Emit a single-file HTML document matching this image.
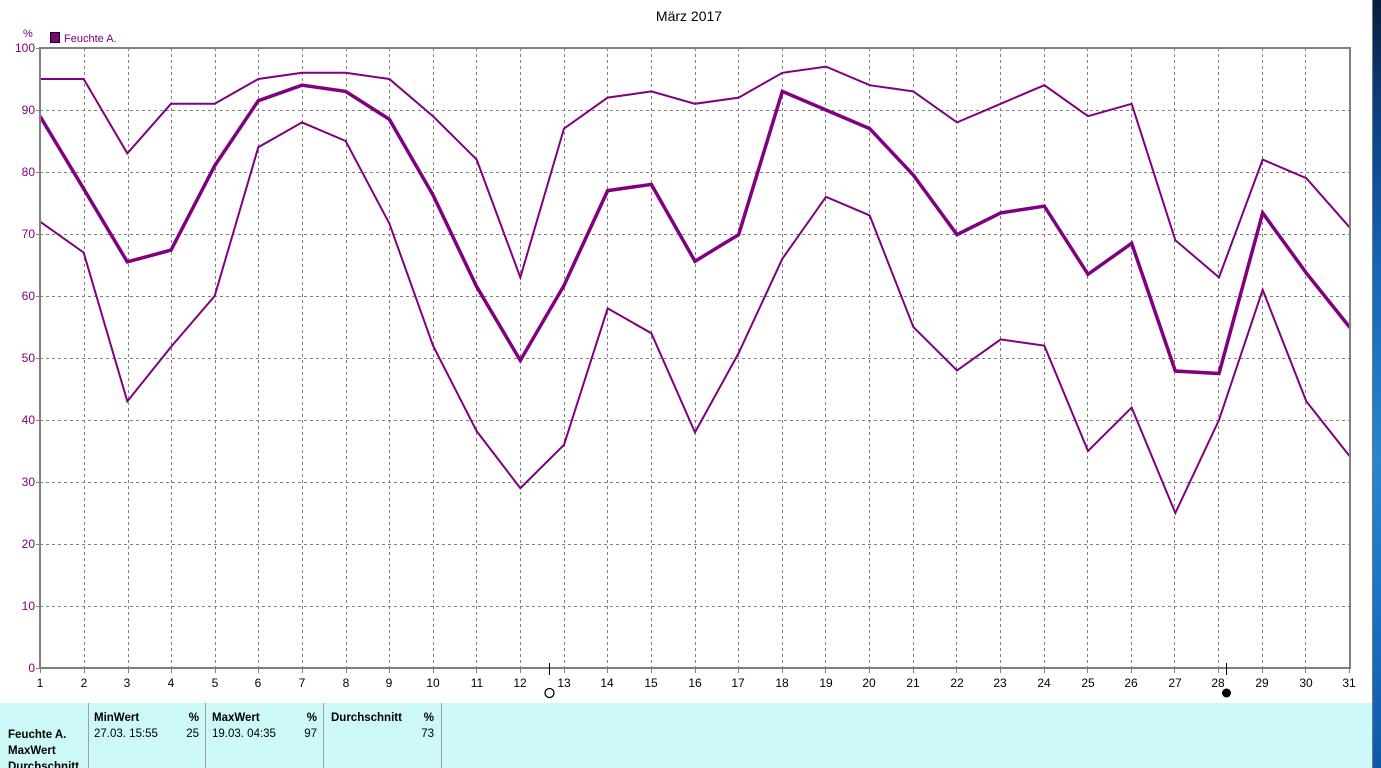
<!DOCTYPE html>
<html><head><meta charset="utf-8">
<style>
html,body{margin:0;padding:0;background:#fff;width:1381px;height:768px;overflow:hidden;}
svg{display:block;}
text{font-family:"Liberation Sans",sans-serif;}
</style></head>
<body>
<svg width="1381" height="768" viewBox="0 0 1381 768" xmlns="http://www.w3.org/2000/svg">
<defs>
<linearGradient id="desk" x1="0" y1="0" x2="0" y2="1">
<stop offset="0" stop-color="#0a1e3c"/>
<stop offset="0.12" stop-color="#0c3a78"/>
<stop offset="0.35" stop-color="#1565b8"/>
<stop offset="0.6" stop-color="#2a85d0"/>
<stop offset="0.8" stop-color="#1a70c4"/>
<stop offset="1" stop-color="#0f58a8"/>
</linearGradient>
</defs>
<rect x="0" y="0" width="1381" height="768" fill="#fff"/>
<!-- desktop strip -->
<rect x="1373" y="0" width="8" height="768" fill="url(#desk)"/>
<rect x="1372" y="0" width="1" height="768" fill="#6a7a8a"/>

<!-- title -->
<text x="689" y="21" font-size="14" text-anchor="middle" fill="#000">März 2017</text>
<!-- unit & legend -->
<text x="23" y="37" font-size="11" fill="#800080">%</text>
<rect x="50.5" y="32.5" width="9" height="10" fill="#800080" stroke="#000" stroke-width="1"/>
<text x="64" y="42" font-size="11" fill="#800080">Feuchte A.</text>

<!-- grid -->
<g stroke="#808080" stroke-width="1" stroke-dasharray="3,3" shape-rendering="crispEdges">
<line x1="40" y1="110.5" x2="1350" y2="110.5"/>
<line x1="40" y1="172.5" x2="1350" y2="172.5"/>
<line x1="40" y1="234.5" x2="1350" y2="234.5"/>
<line x1="40" y1="296.5" x2="1350" y2="296.5"/>
<line x1="40" y1="358.5" x2="1350" y2="358.5"/>
<line x1="40" y1="420.5" x2="1350" y2="420.5"/>
<line x1="40" y1="482.5" x2="1350" y2="482.5"/>
<line x1="40" y1="544.5" x2="1350" y2="544.5"/>
<line x1="40" y1="606.5" x2="1350" y2="606.5"/>
<line x1="84.5" y1="48" x2="84.5" y2="668"/>
<line x1="128.5" y1="48" x2="128.5" y2="668"/>
<line x1="171.5" y1="48" x2="171.5" y2="668"/>
<line x1="215.5" y1="48" x2="215.5" y2="668"/>
<line x1="258.5" y1="48" x2="258.5" y2="668"/>
<line x1="302.5" y1="48" x2="302.5" y2="668"/>
<line x1="346.5" y1="48" x2="346.5" y2="668"/>
<line x1="389.5" y1="48" x2="389.5" y2="668"/>
<line x1="433.5" y1="48" x2="433.5" y2="668"/>
<line x1="476.5" y1="48" x2="476.5" y2="668"/>
<line x1="520.5" y1="48" x2="520.5" y2="668"/>
<line x1="564.5" y1="48" x2="564.5" y2="668"/>
<line x1="607.5" y1="48" x2="607.5" y2="668"/>
<line x1="651.5" y1="48" x2="651.5" y2="668"/>
<line x1="695.5" y1="48" x2="695.5" y2="668"/>
<line x1="738.5" y1="48" x2="738.5" y2="668"/>
<line x1="782.5" y1="48" x2="782.5" y2="668"/>
<line x1="825.5" y1="48" x2="825.5" y2="668"/>
<line x1="869.5" y1="48" x2="869.5" y2="668"/>
<line x1="913.5" y1="48" x2="913.5" y2="668"/>
<line x1="956.5" y1="48" x2="956.5" y2="668"/>
<line x1="1000.5" y1="48" x2="1000.5" y2="668"/>
<line x1="1044.5" y1="48" x2="1044.5" y2="668"/>
<line x1="1087.5" y1="48" x2="1087.5" y2="668"/>
<line x1="1131.5" y1="48" x2="1131.5" y2="668"/>
<line x1="1174.5" y1="48" x2="1174.5" y2="668"/>
<line x1="1218.5" y1="48" x2="1218.5" y2="668"/>
<line x1="1262.5" y1="48" x2="1262.5" y2="668"/>
<line x1="1305.5" y1="48" x2="1305.5" y2="668"/>
</g>

<!-- series -->
<g transform="matrix(43.6667 0 0 -6.2 -3.6667 668)" fill="none" stroke="#800080" stroke-linejoin="miter">
<polyline vector-effect="non-scaling-stroke" stroke-width="2" points="1,95 2,95 3,83 4,91 5,91 6,95 7,96 8,96 9,95 10,89 11,82 12,63 13,87 14,92 15,93 16,91 17,92 18,96 19,97 20,94 21,93 22,88 23,91 24,94 25,89 26,91 27,69 28,63 29,82 30,79 31,71"/>
<polyline vector-effect="non-scaling-stroke" stroke-width="3.5" points="1,89 2,77.3 3,65.5 4,67.4 5,81 6,91.5 7,94 8,93 9,88.5 10,76.3 11,61.5 12,49.6 13,61.7 14,77 15,78 16,65.6 17,69.9 18,93 19,90 20,87 21,79.5 22,69.9 23,73.4 24,74.5 25,63.5 26,68.5 27,47.9 28,47.5 29,73.4 30,63.7 31,54.9"/>
<polyline vector-effect="non-scaling-stroke" stroke-width="2" points="1,72 2,67 3,43 4,51.8 5,60 6,84 7,88 8,85 9,71.7 10,52 11,38.2 12,29 13,36 14,58 15,54 16,38 17,50.8 18,66 19,76 20,73 21,55 22,48 23,53 24,52 25,35 26,42 27,25 28,40 29,61 30,43 31,34.1"/>
</g>

<!-- frame -->
<g stroke="#808080" fill="none" shape-rendering="crispEdges">
<rect x="40" y="48" width="1310" height="620" stroke-width="2"/>
</g>
<!-- y ticks -->
<g stroke="#808080" stroke-width="1" shape-rendering="crispEdges">
<line x1="36" y1="48.5" x2="40" y2="48.5"/>
<line x1="36" y1="110.5" x2="40" y2="110.5"/>
<line x1="36" y1="172.5" x2="40" y2="172.5"/>
<line x1="36" y1="234.5" x2="40" y2="234.5"/>
<line x1="36" y1="296.5" x2="40" y2="296.5"/>
<line x1="36" y1="358.5" x2="40" y2="358.5"/>
<line x1="36" y1="420.5" x2="40" y2="420.5"/>
<line x1="36" y1="482.5" x2="40" y2="482.5"/>
<line x1="36" y1="544.5" x2="40" y2="544.5"/>
<line x1="36" y1="606.5" x2="40" y2="606.5"/>
<line x1="36" y1="668.5" x2="40" y2="668.5"/>
</g>
<!-- x ticks -->
<g stroke="#808080" stroke-width="1" shape-rendering="crispEdges">
<line x1="40.5" y1="668" x2="40.5" y2="673"/>
<line x1="84.5" y1="668" x2="84.5" y2="673"/>
<line x1="128.5" y1="668" x2="128.5" y2="673"/>
<line x1="171.5" y1="668" x2="171.5" y2="673"/>
<line x1="215.5" y1="668" x2="215.5" y2="673"/>
<line x1="258.5" y1="668" x2="258.5" y2="673"/>
<line x1="302.5" y1="668" x2="302.5" y2="673"/>
<line x1="346.5" y1="668" x2="346.5" y2="673"/>
<line x1="389.5" y1="668" x2="389.5" y2="673"/>
<line x1="433.5" y1="668" x2="433.5" y2="673"/>
<line x1="476.5" y1="668" x2="476.5" y2="673"/>
<line x1="520.5" y1="668" x2="520.5" y2="673"/>
<line x1="564.5" y1="668" x2="564.5" y2="673"/>
<line x1="607.5" y1="668" x2="607.5" y2="673"/>
<line x1="651.5" y1="668" x2="651.5" y2="673"/>
<line x1="695.5" y1="668" x2="695.5" y2="673"/>
<line x1="738.5" y1="668" x2="738.5" y2="673"/>
<line x1="782.5" y1="668" x2="782.5" y2="673"/>
<line x1="825.5" y1="668" x2="825.5" y2="673"/>
<line x1="869.5" y1="668" x2="869.5" y2="673"/>
<line x1="913.5" y1="668" x2="913.5" y2="673"/>
<line x1="956.5" y1="668" x2="956.5" y2="673"/>
<line x1="1000.5" y1="668" x2="1000.5" y2="673"/>
<line x1="1044.5" y1="668" x2="1044.5" y2="673"/>
<line x1="1087.5" y1="668" x2="1087.5" y2="673"/>
<line x1="1131.5" y1="668" x2="1131.5" y2="673"/>
<line x1="1174.5" y1="668" x2="1174.5" y2="673"/>
<line x1="1218.5" y1="668" x2="1218.5" y2="673"/>
<line x1="1262.5" y1="668" x2="1262.5" y2="673"/>
<line x1="1305.5" y1="668" x2="1305.5" y2="673"/>
<line x1="1349.5" y1="668" x2="1349.5" y2="673"/>
</g>

<!-- y labels -->
<g font-size="12" fill="#800080" text-anchor="end">
<text x="35" y="52">100</text>
<text x="35" y="114">90</text>
<text x="35" y="176">80</text>
<text x="35" y="238">70</text>
<text x="35" y="300">60</text>
<text x="35" y="362">50</text>
<text x="35" y="424">40</text>
<text x="35" y="486">30</text>
<text x="35" y="548">20</text>
<text x="35" y="610">10</text>
<text x="35" y="672">0</text>
</g>
<!-- x labels -->
<g font-size="12" fill="#000" text-anchor="middle">
<text x="40" y="687">1</text>
<text x="84" y="687">2</text>
<text x="127" y="687">3</text>
<text x="171" y="687">4</text>
<text x="215" y="687">5</text>
<text x="258" y="687">6</text>
<text x="302" y="687">7</text>
<text x="346" y="687">8</text>
<text x="389" y="687">9</text>
<text x="433" y="687">10</text>
<text x="477" y="687">11</text>
<text x="520" y="687">12</text>
<text x="564" y="687">13</text>
<text x="607" y="687">14</text>
<text x="651" y="687">15</text>
<text x="695" y="687">16</text>
<text x="738" y="687">17</text>
<text x="782" y="687">18</text>
<text x="826" y="687">19</text>
<text x="869" y="687">20</text>
<text x="913" y="687">21</text>
<text x="957" y="687">22</text>
<text x="1000" y="687">23</text>
<text x="1044" y="687">24</text>
<text x="1088" y="687">25</text>
<text x="1131" y="687">26</text>
<text x="1175" y="687">27</text>
<text x="1218" y="687">28</text>
<text x="1262" y="687">29</text>
<text x="1306" y="687">30</text>
<text x="1349" y="687">31</text>
</g>

<!-- moon markers -->
<line x1="549.5" y1="663" x2="549.5" y2="675" stroke="#000" stroke-width="1"/>
<circle cx="549.5" cy="693" r="4.5" fill="none" stroke="#000" stroke-width="1.3"/>
<line x1="1226.5" y1="663" x2="1226.5" y2="675" stroke="#000" stroke-width="1"/>
<circle cx="1226.5" cy="693" r="4.5" fill="#000"/>

<!-- bottom panel -->
<rect x="0" y="703" width="1372" height="65" fill="#ccf8f8"/>
<g fill="#a0a0a0">
<rect x="88" y="703" width="1" height="65"/>
<rect x="205" y="703" width="1" height="65"/>
<rect x="323" y="703" width="1" height="65"/>
<rect x="441" y="703" width="1" height="65"/>
</g>
<g fill="#000" font-size="11.5">
<text x="8" y="738" font-weight="bold">Feuchte A.</text>
<text x="8" y="754" font-weight="bold">MaxWert</text>
<text x="8" y="770" font-weight="bold">Durchschnitt</text>
<text x="94" y="721" font-weight="bold">MinWert</text>
<text x="199" y="721" font-weight="bold" text-anchor="end">%</text>
<text x="94" y="737">27.03.  15:55</text>
<text x="199" y="737" text-anchor="end">25</text>
<text x="212" y="721" font-weight="bold">MaxWert</text>
<text x="317" y="721" font-weight="bold" text-anchor="end">%</text>
<text x="212" y="737">19.03.  04:35</text>
<text x="317" y="737" text-anchor="end">97</text>
<text x="331" y="721" font-weight="bold">Durchschnitt</text>
<text x="434" y="721" font-weight="bold" text-anchor="end">%</text>
<text x="434" y="737" text-anchor="end">73</text>
</g>
</svg>
</body></html>
